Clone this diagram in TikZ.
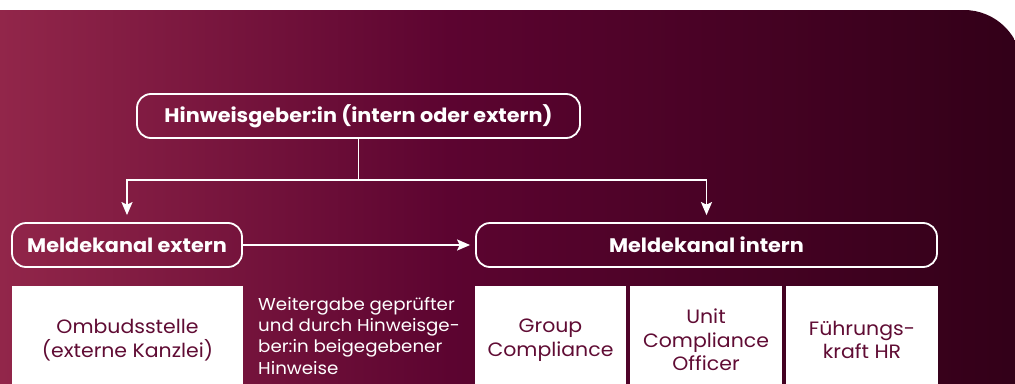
\documentclass[tikz,border=0pt]{standalone}
\usepackage{fontspec}
\setmainfont{Poppins}[FakeStretch=1.06]
\usetikzlibrary{arrows.meta}
\definecolor{cA}{RGB}{146,38,74}
\definecolor{cB}{RGB}{92,4,48}
\definecolor{cC}{RGB}{50,0,24}
\definecolor{txt}{RGB}{96,12,52}
\pgfdeclarehorizontalshading{bgshade}{100bp}{color(0bp)=(cA); color(25bp)=(cA); color(47bp)=(cB); color(75bp)=(cC); color(100bp)=(cC)}
\tikzset{
  hbox/.style={draw=white, line width=1.8pt, rounded corners=14pt, text=white,
    font=\fontsize{19.6}{22}\selectfont\bfseries, inner sep=0pt, minimum height=44pt},
  wbox/.style={fill=white, text=txt, align=center, inner sep=0pt, minimum height=108pt,
    font=\fontsize{19.3}{23.5}\selectfont},
  conn/.style={draw=white, line width=1.8pt},
  arr/.style={conn, -{Stealth[length=13pt,width=11pt,inset=2.5pt]}}
}
\begin{document}
\begin{tikzpicture}[x=1pt,y=-1pt]
\useasboundingbox (0,0) rectangle (1015,383);
\fill[white] (0,0) rectangle (1015,383);
\begin{scope}
\clip (0,0) rectangle (1015,383);
\shade[shading=bgshade] (0,10) -- (964,10) .. controls (996,10) and (1022,36) .. (1022,68) -- (1022,400) -- (0,400) -- cycle;

\node[hbox, minimum width=443pt] (hin) at (358.5,116) {Hinweisgeber:in (intern oder extern)};
\node[hbox, minimum width=230pt] (ext) at (127,245) {Meldekanal extern};
\node[hbox, minimum width=461pt] (int) at (706.5,245) {Meldekanal intern};

\coordinate (jn) at (358.5,180);
\draw[conn] (hin.south) -- (jn);
\draw[arr, shorten >=7pt] (jn) -| (ext.north);
\draw[arr, shorten >=7pt] (jn) -| (int.north);
\draw[arr, shorten >=5pt] (ext.east) -- (int.west);

\node[wbox, minimum width=231pt] (omb) at (127.5,340) {Ombudsstelle\\(externe Kanzlei)};
\node[anchor=north west, text=white, align=left, inner sep=0pt,
  font=\fontsize{17.2}{21.3}\selectfont] (wei) at (258,297) {Weitergabe geprüfter\\und durch Hinweisge-\\ber:in beigegebener\\Hinweise};
\node[wbox, minimum width=151pt] (grp) at (550.5,340) {Group\\Compliance};
\node[wbox, minimum width=152pt] (ucl) at (706,340) {Unit\\Compliance\\Officer};
\node[wbox, minimum width=152pt] (fhr) at (862,340) {Führungs-\\kraft HR};
\end{scope}
\end{tikzpicture}
\end{document}
